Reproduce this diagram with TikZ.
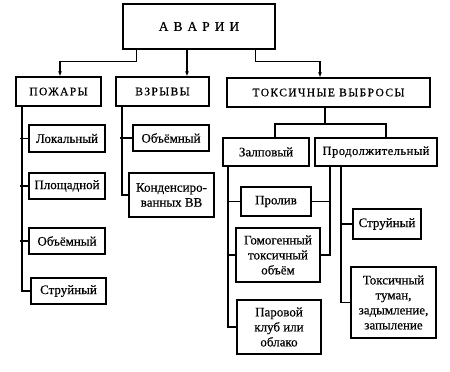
\documentclass[tikz,border=0pt]{standalone}
\usepackage{fontspec}
\setmainfont{Liberation Serif}[FakeBold=0.5]
\newfontfamily\spaced[LetterSpace=12,FakeBold=0.5]{Liberation Serif}
\newfontfamily\spacedlow[LetterSpace=4,FakeBold=0.5]{Liberation Serif}
\usetikzlibrary{arrows.meta}
\begin{document}
\begin{tikzpicture}[x=1pt,y=-1pt,
  box/.style={draw,line width=1.2pt,inner sep=1pt,align=center,font=\fontsize{13}{15}\selectfont},
  con/.style={line width=1.2pt},
  arr/.style={con,-{Latex[length=5pt,width=4pt]}}]
\useasboundingbox (0,0) rectangle (450,372);
\node[box,minimum width=152,minimum height=45,font=\fontsize{13.5}{15}\spaced] (avarii) at (199,26.5) {А В А Р И И};
\node[box,minimum width=85,minimum height=29,font=\fontsize{11.5}{14}\spaced] (pozhary) at (58.5,91.5) {ПОЖАРЫ};
\node[box,minimum width=93,minimum height=29,font=\fontsize{11.5}{14}\spaced] (vzryvy) at (162.5,91.5) {ВЗРЫВЫ};
\node[box,minimum width=203,minimum height=29,font=\fontsize{11.5}{14}\spaced] (toks) at (328.5,92.5) {ТОКСИЧНЫЕ ВЫБРОСЫ};
\node[box,minimum width=76,minimum height=27] (lok) at (67,138.5) {Локальный};
\node[box,minimum width=76,minimum height=26] (plosh) at (67,186) {Площадной};
\node[box,minimum width=76,minimum height=26] (obL) at (67,241) {Объёмный};
\node[box,minimum width=75,minimum height=26] (struL) at (68.5,291) {Струйный};
\node[box,minimum width=76,minimum height=26] (obM) at (171,138) {Объёмный};
\node[box,minimum width=85,minimum height=44] (kond) at (171.5,195) {Конденсиро-\\ванных ВВ};
\node[box,minimum width=86,minimum height=28] (zalp) at (266,152) {Залповый};
\node[box,minimum width=122,minimum height=28,font=\fontsize{12.5}{15}\spacedlow] (prod) at (376,152) {Продолжительный};
\node[box,minimum width=70,minimum height=29] (proliv) at (276,201.5) {Пролив};
\node[box,minimum width=84,minimum height=54] (gomog) at (278,255) {Гомогенный\\токсичный\\объём};
\node[box,minimum width=84,minimum height=54] (parov) at (279,327) {Паровой\\клуб или\\облако};
\node[box,minimum width=68,minimum height=30] (struR) at (387,224) {Струйный};
\node[box,minimum width=85,minimum height=71] (tuman) at (393.5,302.5) {Токсичный\\туман,\\задымление,\\запыление};
% top arrows
\draw[arr] ([xshift=14]avarii.south west) -- ++(0,12) -| ([xshift=1.5]pozhary.north);
\draw[arr] ([xshift=-12]avarii.south) -- ([xshift=-12]avarii.south |- vzryvy.north);
\draw[arr] ([xshift=-20]avarii.south east) -- ++(0,12) -| ([xshift=-8.5]toks.north);
% toxic split
\coordinate (tj) at (325,124);
\draw[con] (toks.south -| tj) -- (tj);
\draw[con] (tj) -| ([xshift=9]zalp.north);
\draw[con] (tj) -| ([xshift=10]prod.north);
% fires bus
\coordinate (bp) at (22,106);
\draw[con] (bp) |- (struL.west);
\draw[con] ([xshift=-2]bp |- lok.west) -- (lok.west);
\draw[con] ([xshift=-2]bp |- plosh.west) -- (plosh.west);
\draw[con] ([xshift=-2]bp |- obL.west) -- (obL.west);
% explosions bus
\coordinate (bv) at (122,106);
\draw[con] (bv) |- (kond.west);
\draw[con] ([xshift=-2]bv |- obM.west) -- (obM.west);
% salvo bus
\coordinate (bz) at (228,166);
\draw[con] (bz) |- (parov.west);
\draw[con] (bz |- proliv.west) -- (proliv.west);
\draw[con] (bz |- gomog.west) -- (gomog.west);
% continuous buses
\coordinate (bc1) at (330,166);
\coordinate (bc2) at (341,166);
\draw[con] (bc1) |- (gomog.east);
\draw[con] (proliv.east) -- (proliv.east -| bc1);
\draw[con] (bc2) |- (tuman.west);
\draw[con] (bc2 |- struR.west) -- (struR.west);
\end{tikzpicture}
\end{document}
